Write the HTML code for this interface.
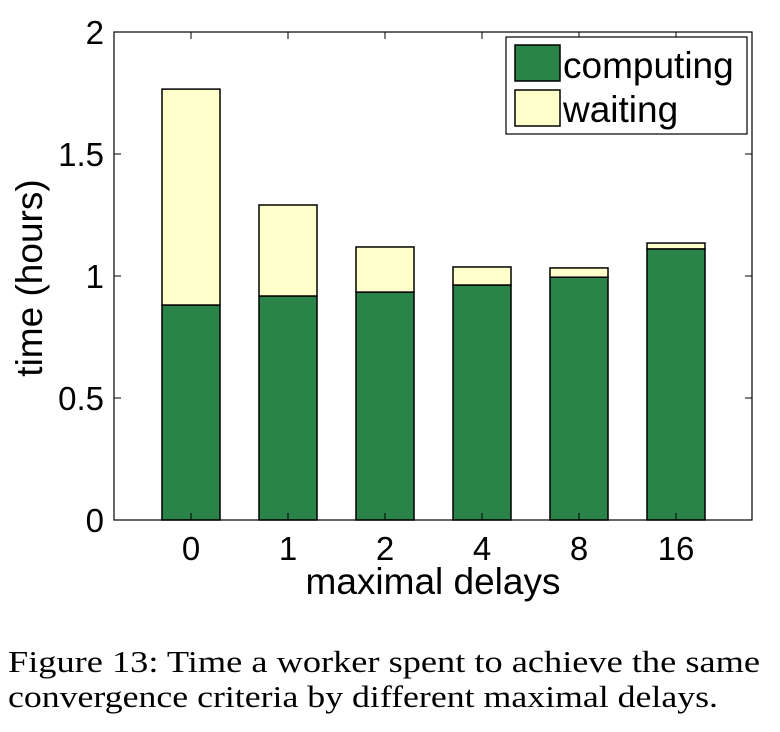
<!DOCTYPE html>
<html><head><meta charset="utf-8"><style>body{margin:0;background:#fff}svg{display:block}</style></head>
<body>
<svg width="780" height="732" xmlns="http://www.w3.org/2000/svg" font-family="Liberation Sans, sans-serif">
<g id="plot"></g>
<text x="8" y="672" font-family="Liberation Serif, serif" font-size="31" textLength="752" lengthAdjust="spacingAndGlyphs">Figure 13: Time a worker spent to achieve the same</text>
<text x="8" y="707" font-family="Liberation Serif, serif" font-size="31" textLength="710" lengthAdjust="spacingAndGlyphs">convergence criteria by different maximal delays.</text>
</svg>
<script>
const categories=["0","1","2","4","8","16"];
const computing=[0.881,0.918,0.934,0.963,0.995,1.111];
const waiting=[0.885,0.373,0.185,0.074,0.038,0.024];
const yTicks=[0,0.5,1,1.5,2];
const yTickLabels=["0","0.5","1","1.5","2"];
const NS="http://www.w3.org/2000/svg";
const g=document.getElementById('plot');
const L=114,R=752,T=32,B=520;
const y=v=>B-(v/2)*(B-T);
const x=i=>191+97*i;
const bw=58;
function el(t,a,p){const e=document.createElementNS(NS,t);for(const k in a)e.setAttribute(k,a[k]);(p||g).appendChild(e);return e;}
categories.forEach((c,i)=>{
  const r1=el('rect',{x:x(i)-bw/2,y:y(computing[i]),width:bw,height:y(0)-y(computing[i]),fill:'#2a8449',stroke:'#000','stroke-width':1.5});
  
  
  const tot=computing[i]+waiting[i];
  const r2=el('rect',{x:x(i)-bw/2,y:y(tot),width:bw,height:y(computing[i])-y(tot),fill:'#ffffcc',stroke:'#000','stroke-width':1.5});
  
  
  el('line',{x1:x(i),x2:x(i),y1:B,y2:B-7,stroke:'#000'});
  el('line',{x1:x(i),x2:x(i),y1:T,y2:T+7,stroke:'#000'});
  const t=el('text',{x:x(i),y:B+40,'font-size':33,'text-anchor':'middle'});
  t.textContent=c;
  
  
});
yTicks.forEach((v,i)=>{
  el('line',{x1:L,x2:L+7,y1:y(v),y2:y(v),stroke:'#000'});
  el('line',{x1:R,x2:R-7,y1:y(v),y2:y(v),stroke:'#000'});
  const t=el('text',{x:L-10,y:y(v)+12,'font-size':33,'text-anchor':'end'});
  t.textContent=yTickLabels[i];
  
  
});
const frame=el('rect',{x:L,y:T,width:R-L,height:B-T,fill:'none',stroke:'#000','stroke-width':1.2});


const xt=el('text',{x:433,y:594,'font-size':37,'text-anchor':'middle'});xt.textContent='maximal delays';


const yt=el('text',{x:0,y:0,'font-size':37,'text-anchor':'middle',transform:'translate(42,278) rotate(-90)'});yt.textContent='time (hours)';


const lg=el('g',{});


el('rect',{x:506,y:37,width:241,height:97,fill:'#fff',stroke:'#000','stroke-width':1.2},lg);
el('rect',{x:515,y:45,width:45,height:36,fill:'#2a8449',stroke:'#000','stroke-width':1.5},lg);
el('rect',{x:515,y:90,width:45,height:36,fill:'#ffffcc',stroke:'#000','stroke-width':1.5},lg);
const l1=el('text',{x:563,y:78,'font-size':37},lg);l1.textContent='computing';


const l2=el('text',{x:563,y:122,'font-size':37},lg);l2.textContent='waiting';


</script>
</body></html>
